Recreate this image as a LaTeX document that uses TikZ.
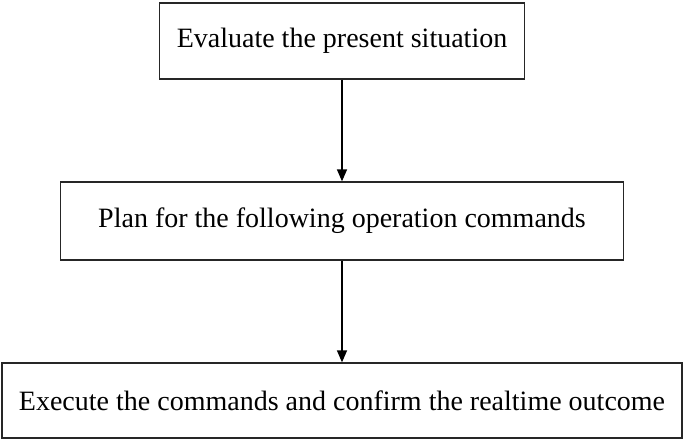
\documentclass[tikz,border=0pt]{standalone}
\usepackage{fontspec}
\setmainfont{Liberation Serif}
\usetikzlibrary{arrows.meta}
\tikzset{
  >={Triangle[length=12pt,width=10pt]},
  pbox/.style={draw=black!85, line width=1.3pt, inner sep=0pt, align=center,
               font=\fontsize{28}{32}\selectfont},
  pflow/.style={->, black, line width=1.5pt},
}

\begin{document}
\begin{tikzpicture}[x=1pt, y=1pt]
  \useasboundingbox (0,0) rectangle (685,441);

  % etapas
  \node[pbox, minimum width=365pt, minimum height=76pt] (avaliar) at (342,400)
        {Evaluate the present situation};
  \node[pbox, minimum width=563pt, minimum height=78pt] (planear) at (342,220)
        {Plan for the following operation commands};
  \node[pbox, minimum width=680pt, minimum height=75pt] (executar) at (342,40.5)
        {Execute the commands and confirm the realtime outcome};

  % ligações
  \draw[pflow] (avaliar) -- (planear);
  \draw[pflow] (planear) -- (executar);

\end{tikzpicture}
\end{document}
